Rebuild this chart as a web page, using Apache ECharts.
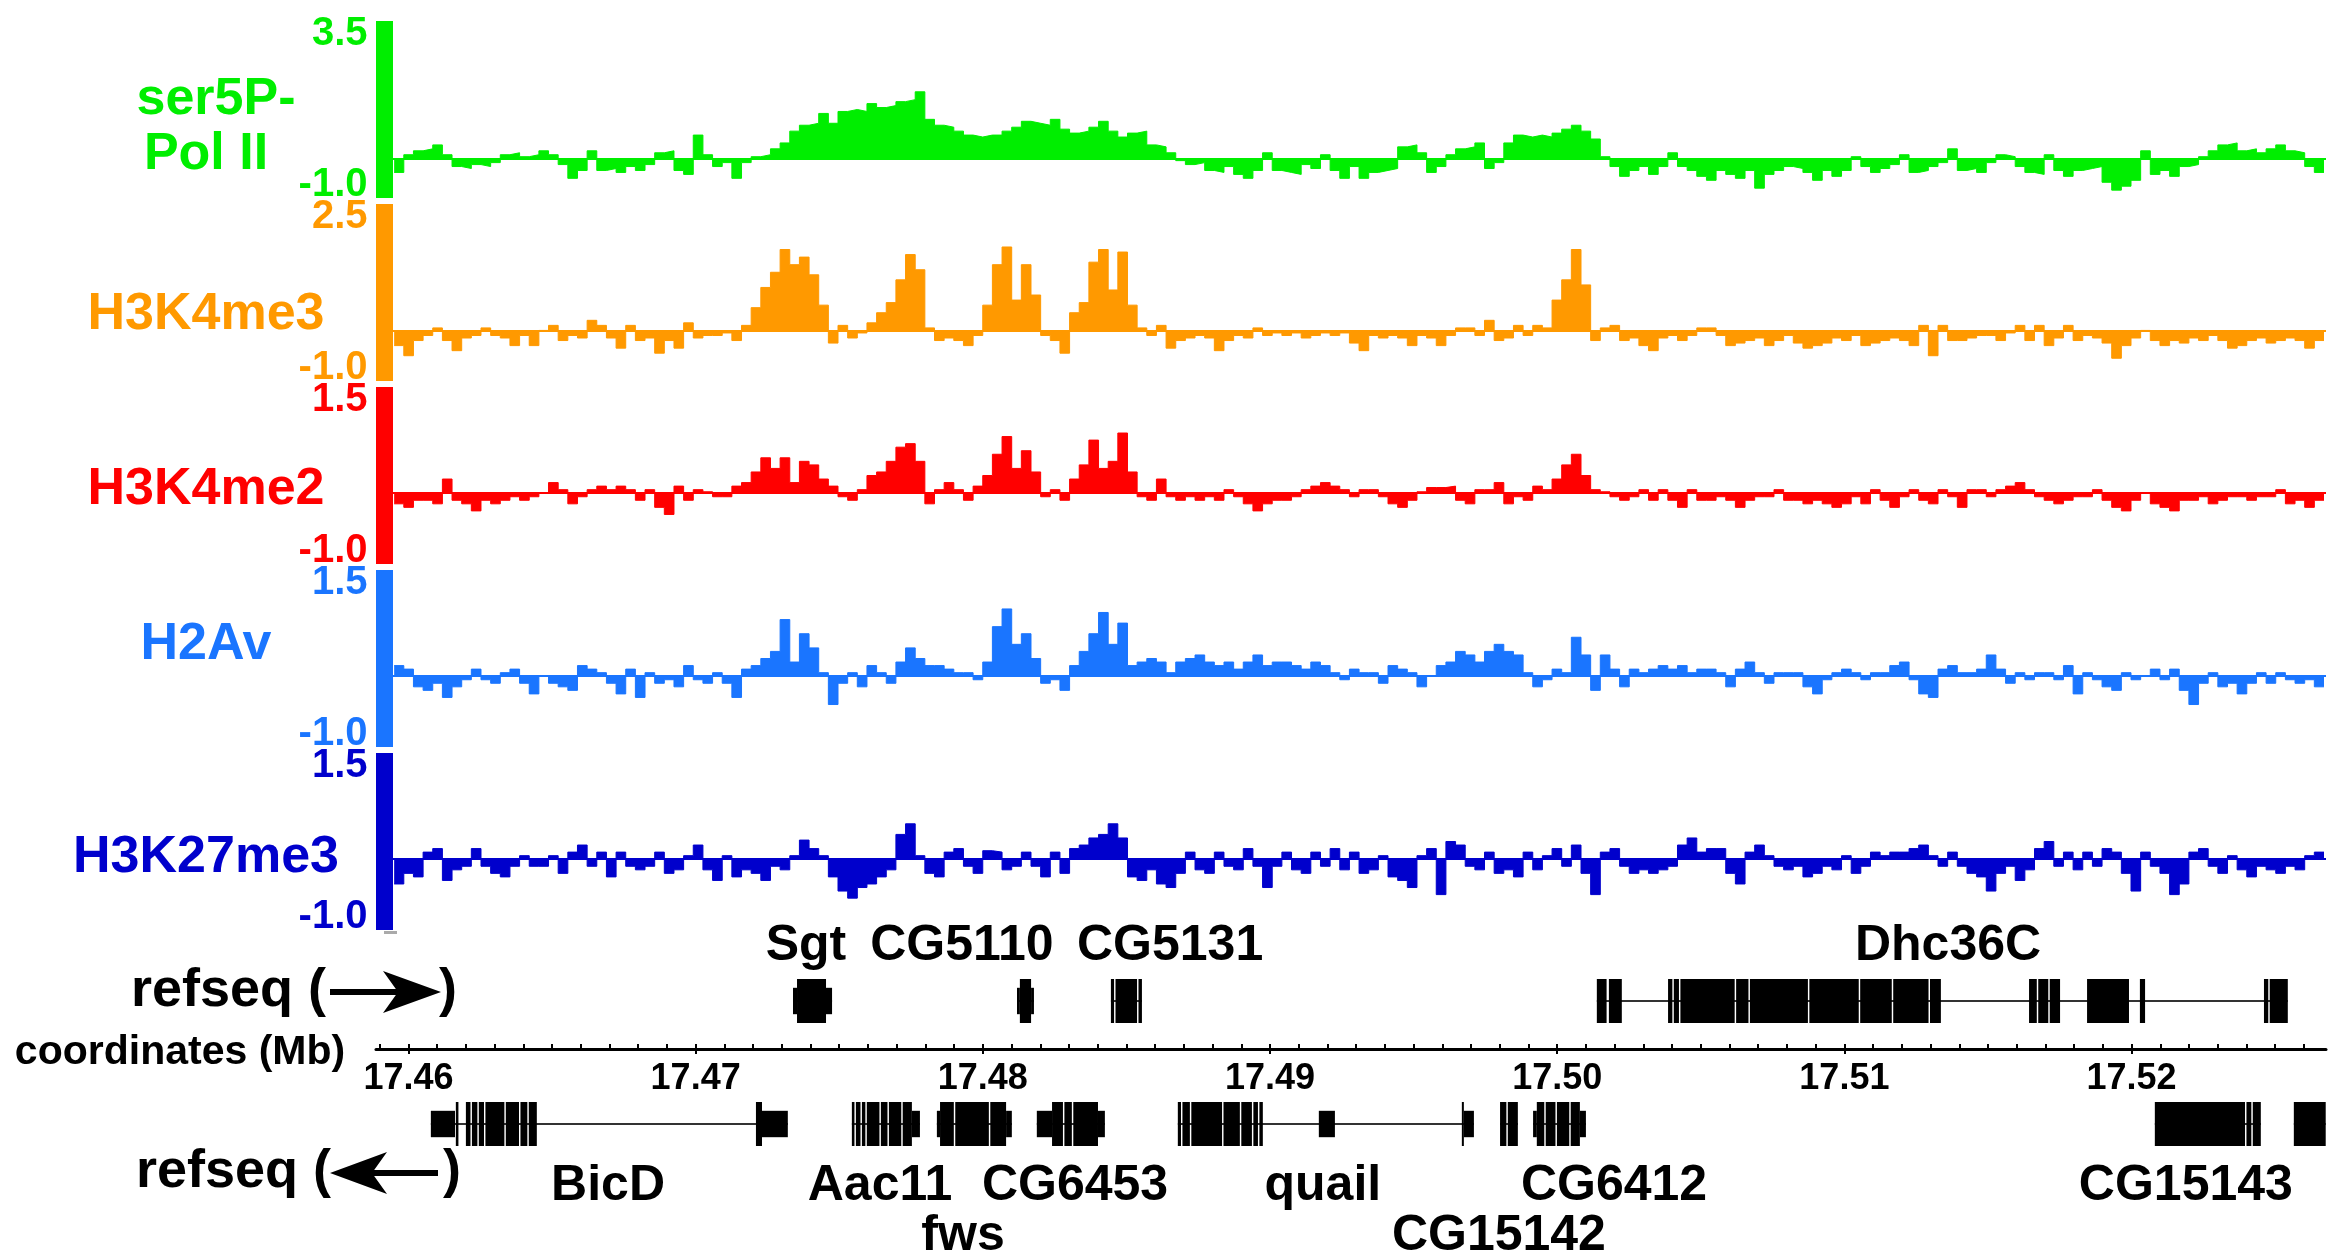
<!DOCTYPE html>
<html><head><meta charset="utf-8">
<script src="https://cdn.jsdelivr.net/npm/echarts@6/dist/echarts.min.js"></script>
<style>html,body{margin:0;padding:0;background:#fff;}#c{width:2347px;height:1257px;}</style>
</head><body><div id="c"></div>
<script>
const FONT = '"Liberation Sans", Arial, Helvetica, sans-serif';
// genomic bins (Mb)
const BIN_START = 17.4595, BIN_SIZE = 0.000336;
const SIG_MIN = 17.45946, X_MAX = 17.52677, GENE_MIN = 17.45887;

const trackNames = ['ser5P-Pol II', 'H3K4me3', 'H3K4me2', 'H2Av', 'H3K27me3'];
const trackColors = ['#00ee00', '#ff9900', '#ff0000', '#1a75ff', '#0000cc'];
const trackMin = [-1.0, -1.0, -1.0, -1.0, -1.0];
const trackMax = [3.5, 2.5, 1.5, 1.5, 1.5];

const ser5P = [
-0.35,0.1,0.2,0.25,0.35,0.1,-0.2,-0.25,-0.15,-0.2,
-0.1,0.1,0.15,0.05,0.1,0.2,0.1,-0.15,-0.5,-0.3,
0.2,-0.3,-0.25,-0.35,-0.2,-0.3,-0.15,0.15,0.2,-0.3,
-0.4,0.6,0.1,-0.2,-0.1,-0.5,-0.1,0.05,0.1,0.25,
0.4,0.7,0.85,0.9,1.15,0.9,1.2,1.25,1.2,1.4,
1.3,1.35,1.45,1.5,1.7,1.0,0.85,0.8,0.7,0.6,
0.55,0.6,0.6,0.7,0.8,0.95,0.9,0.85,1.0,0.75,
0.65,0.7,0.8,0.95,0.7,0.55,0.65,0.7,0.35,0.3,
0.15,-0.05,-0.15,-0.1,-0.3,-0.35,-0.2,-0.4,-0.5,-0.3,
0.15,-0.3,-0.35,-0.4,-0.15,-0.25,0.1,-0.3,-0.5,-0.2,
-0.5,-0.35,-0.3,-0.25,0.3,0.35,0.15,-0.35,-0.2,0.1,
0.25,0.3,0.4,-0.25,-0.1,0.4,0.6,0.55,0.6,0.55,
0.65,0.75,0.85,0.7,0.5,0.05,-0.2,-0.45,-0.3,-0.2,
-0.4,-0.2,0.15,-0.2,-0.3,-0.45,-0.55,-0.3,-0.4,-0.5,
-0.3,-0.75,-0.4,-0.3,-0.2,-0.25,-0.35,-0.55,-0.3,-0.45,
-0.3,0.05,-0.2,-0.35,-0.25,-0.15,0.1,-0.35,-0.3,-0.2,
-0.1,0.25,-0.3,-0.25,-0.35,-0.1,0.1,0.05,-0.2,-0.35,
-0.4,0.1,-0.3,-0.45,-0.3,-0.25,-0.2,-0.6,-0.8,-0.7,
-0.55,0.2,-0.4,-0.3,-0.45,-0.2,-0.15,0.05,0.2,0.35,
0.4,0.2,0.25,0.15,0.25,0.35,0.2,0.15,-0.2,-0.35];

const h3k4me3 = [
-0.3,-0.5,-0.2,-0.1,0.05,-0.2,-0.4,-0.15,-0.1,0.05,
-0.1,-0.15,-0.3,-0.1,-0.3,0,0.1,-0.2,-0.1,-0.15,
0.2,0.1,-0.15,-0.35,0.1,-0.2,-0.15,-0.45,-0.2,-0.35,
0.15,-0.15,-0.1,-0.1,-0.05,-0.2,0.1,0.45,0.85,1.15,
1.6,1.3,1.45,1.1,0.5,-0.25,0.1,-0.15,-0.05,0.15,
0.35,0.55,1.0,1.5,1.2,0.05,-0.2,-0.15,-0.2,-0.3,
-0.1,0.5,1.3,1.65,0.6,1.3,0.7,-0.1,-0.2,-0.45,
0.35,0.55,1.35,1.6,0.8,1.55,0.5,0.05,-0.1,0.1,
-0.35,-0.2,-0.15,-0.1,-0.15,-0.4,-0.2,-0.1,-0.15,0.05,
-0.1,-0.05,-0.1,-0.05,-0.15,-0.1,-0.05,-0.1,-0.05,-0.25,
-0.4,-0.1,-0.15,-0.1,-0.15,-0.3,-0.1,-0.15,-0.3,-0.1,
0.05,0.05,-0.1,0.2,-0.2,-0.15,0.1,-0.1,0.1,0.05,
0.6,1.0,1.6,0.9,-0.2,0.05,0.1,-0.2,-0.15,-0.3,
-0.4,-0.15,-0.1,-0.2,-0.1,0.05,0.05,-0.1,-0.3,-0.25,
-0.2,-0.15,-0.3,-0.2,-0.1,-0.25,-0.35,-0.3,-0.25,-0.15,
-0.2,-0.1,-0.3,-0.25,-0.2,-0.15,-0.2,-0.3,0.1,-0.5,
0.1,-0.2,-0.2,-0.15,-0.1,-0.1,-0.2,-0.05,0.1,-0.2,
0.1,-0.3,-0.15,0.1,-0.2,-0.1,-0.15,-0.25,-0.55,-0.3,
-0.15,0,-0.2,-0.3,-0.2,-0.25,-0.15,-0.2,-0.1,-0.2,
-0.35,-0.3,-0.2,-0.15,-0.25,-0.2,-0.15,-0.2,-0.35,-0.2];

const h3k4me2 = [
-0.15,-0.2,-0.1,-0.1,-0.15,0.2,-0.1,-0.15,-0.25,-0.1,
-0.15,-0.1,-0.05,-0.1,-0.05,0,0.15,0.05,-0.15,-0.05,
0.05,0.1,0.05,0.1,0.05,-0.1,0.05,-0.2,-0.3,0.1,
-0.1,0.05,0.02,-0.05,-0.05,0.1,0.15,0.3,0.5,0.35,
0.5,0.15,0.45,0.4,0.2,0.1,-0.05,-0.1,0.05,0.25,
0.3,0.45,0.65,0.7,0.45,-0.15,0.05,0.15,0.05,-0.1,
0.1,0.25,0.55,0.8,0.35,0.6,0.3,-0.05,0.05,-0.1,
0.2,0.4,0.75,0.35,0.45,0.85,0.3,-0.05,-0.1,0.2,
-0.05,-0.1,-0.05,-0.1,-0.05,-0.1,0.05,-0.05,-0.15,-0.25,
-0.15,-0.1,-0.1,-0.05,0.05,0.1,0.15,0.1,0.05,-0.05,
0.05,0.05,-0.05,-0.15,-0.2,-0.1,0.02,0.08,0.08,0.1,
-0.1,-0.15,0.05,0.05,0.15,-0.15,-0.05,-0.1,0.1,0.05,
0.2,0.4,0.55,0.25,0.05,0.02,-0.05,-0.1,-0.05,0.05,
-0.1,0.05,-0.1,-0.2,0.05,-0.1,-0.1,-0.05,-0.1,-0.2,
-0.1,-0.05,-0.05,0.05,-0.1,-0.1,-0.15,-0.1,-0.15,-0.2,
-0.15,-0.05,-0.15,0.05,-0.1,-0.2,-0.05,0.05,-0.1,-0.15,
0.05,-0.05,-0.2,0.05,0.05,-0.05,0.05,0.1,0.15,0.05,
-0.05,-0.1,-0.15,-0.1,-0.05,-0.05,0.05,-0.1,-0.2,-0.25,
-0.1,0,-0.15,-0.2,-0.25,-0.1,-0.1,-0.05,-0.15,-0.1,
-0.05,-0.05,-0.1,-0.05,-0.05,0.05,-0.15,-0.1,-0.2,-0.1];

const h2av = [
0.15,0.1,-0.15,-0.2,-0.1,-0.3,-0.15,-0.05,0.1,-0.05,
-0.1,0.05,0.1,-0.1,-0.25,0,-0.1,-0.15,-0.2,0.15,
0.1,0.05,-0.1,-0.25,0.1,-0.3,0.05,-0.1,-0.05,-0.15,
0.15,-0.05,-0.1,0.05,-0.1,-0.3,0.1,0.15,0.25,0.35,
0.8,0.2,0.6,0.4,0.05,-0.4,-0.1,0.05,-0.15,0.15,
0.05,-0.1,0.2,0.4,0.25,0.15,0.15,0.1,0.05,0.05,
-0.05,0.2,0.7,0.95,0.45,0.6,0.25,-0.1,-0.05,-0.2,
0.15,0.35,0.6,0.9,0.45,0.75,0.15,0.2,0.25,0.2,
0.05,0.2,0.25,0.3,0.2,0.15,0.2,0.1,0.2,0.3,
0.15,0.2,0.2,0.15,0.1,0.2,0.15,0.05,-0.05,0.1,
0.05,0.05,-0.1,0.15,0.1,0.05,-0.15,0,0.15,0.2,
0.35,0.3,0.2,0.35,0.45,0.35,0.3,0.05,-0.15,-0.05,
0.1,0.05,0.55,0.3,-0.2,0.3,0.1,-0.15,0.1,0.05,
0.1,0.15,0.1,0.15,0.05,0.1,0.1,0.05,-0.15,0.1,
0.2,0.05,-0.1,0.05,0.05,0.05,-0.15,-0.25,-0.05,0.05,
0.1,0.05,-0.05,0.05,0.05,0.15,0.2,-0.05,-0.25,-0.3,
0.1,0.15,0.05,0.05,0.1,0.3,0.1,-0.1,0.05,-0.05,
0.05,0.05,-0.05,0.15,-0.25,0.05,-0.05,-0.15,-0.2,0.05,
-0.05,0,0.1,-0.05,0.1,-0.2,-0.4,-0.1,0.05,-0.15,
-0.1,-0.25,-0.1,0.05,-0.1,0.05,-0.05,-0.1,-0.05,-0.15];

const h3k27me3 = [
-0.35,-0.2,-0.25,0.1,0.15,-0.3,-0.15,-0.1,0.15,-0.1,
-0.2,-0.25,-0.1,0.05,-0.1,-0.1,0.05,-0.2,0.1,0.2,
-0.1,0.1,-0.25,0.1,-0.1,-0.15,-0.1,0.1,-0.2,-0.15,
0.05,0.2,-0.15,-0.3,0.05,-0.25,-0.15,-0.2,-0.3,-0.1,
-0.15,0.05,0.27,0.15,0.05,-0.25,-0.45,-0.55,-0.4,-0.35,
-0.25,-0.15,0.35,0.5,0.05,-0.2,-0.25,0.1,0.15,-0.1,
-0.2,0.12,0.1,-0.15,-0.1,0.1,-0.1,-0.25,0.1,-0.2,
0.15,0.2,0.3,0.35,0.5,0.3,-0.25,-0.3,-0.15,-0.35,
-0.4,-0.2,0.1,-0.15,-0.2,0.1,-0.1,-0.15,0.15,-0.1,
-0.4,-0.1,0.1,-0.15,-0.2,0.1,-0.1,0.15,-0.15,0.1,
-0.2,-0.15,0.05,-0.25,-0.3,-0.4,0.05,0.15,-0.5,0.25,
0.2,-0.1,-0.15,0.1,-0.2,-0.15,-0.25,0.1,-0.15,0.05,
0.15,-0.1,0.2,-0.2,-0.5,0.1,0.15,-0.1,-0.2,-0.15,
-0.2,-0.15,-0.1,0.2,0.3,0.1,0.15,0.15,-0.2,-0.35,
0.1,0.2,0.05,-0.1,-0.15,-0.1,-0.25,-0.2,-0.1,-0.15,
0.05,-0.2,-0.1,0.1,0.05,0.1,0.1,0.15,0.2,0.05,
-0.1,0.1,-0.1,-0.2,-0.25,-0.45,-0.2,-0.1,-0.3,-0.15,
0.15,0.25,-0.1,0.1,-0.15,0.1,-0.1,0.15,0.1,-0.2,
-0.45,0.1,-0.1,-0.2,-0.5,-0.35,0.1,0.15,-0.1,-0.2,
0.05,-0.15,-0.25,-0.1,-0.15,-0.2,-0.1,-0.15,0.05,0.1];

const trackValues = [ser5P, h3k4me3, h3k4me2, h2av, h3k27me3];

// coordinate axis ticks (Mb)
const majorTicks = [17.46, 17.47, 17.48, 17.49, 17.50, 17.51, 17.52];
const minorTicks = [];
for (let k = 17459; k <= 17526; k++) minorTicks.push(k / 1000);

// gene models: spans (intron line) and exons [start, end, relative height]
const fwdSpans = [[17.47339,17.47475],[17.48119,17.48178],[17.48446,17.48554],[17.50138,17.52544]];
const fwdExons = [
[17.47339,17.47353,0.6],[17.47353,17.47454,1],[17.47454,17.47475,0.6],
[17.48119,17.48129,0.6],[17.48129,17.48168,1],[17.48168,17.48178,0.6],
[17.48446,17.48457,1],[17.48462,17.48537,1],[17.48542,17.48554,1],
[17.50138,17.50172,1],[17.50180,17.50225,1],
[17.50386,17.50401,1],[17.50406,17.50424,1],[17.50429,17.50618,1],[17.50623,17.50666,1],
[17.50671,17.50873,1],[17.50878,17.51050,1],[17.51055,17.51165,1],[17.51170,17.51293,1],[17.51298,17.51336,1],
[17.51643,17.51670,1],[17.51675,17.51710,1],[17.51715,17.51751,1],
[17.51845,17.51991,1],[17.52029,17.52047,1],
[17.52461,17.52476,1],[17.52481,17.52544,1]];
const revSpans = [[17.46078,17.47321],[17.47544,17.47781],[17.47840,17.48101],[17.48188,17.48425],
[17.48679,17.49710],[17.49801,17.49863],[17.49916,17.50100],[17.52081,17.52450],[17.52565,17.52676]];
const revExons = [
[17.46078,17.46162,0.6],[17.46165,17.46174,1],[17.46200,17.46216,1],[17.46221,17.46240,1],[17.46245,17.46263,1],
[17.46268,17.46334,1],[17.46339,17.46385,1],[17.46390,17.46414,1],[17.46419,17.46447,1],
[17.47210,17.47231,1],[17.47231,17.47321,0.6],
[17.47544,17.47553,1],[17.47558,17.47574,1],[17.47579,17.47591,1],[17.47596,17.47640,1],
[17.47645,17.47668,1],[17.47673,17.47716,1],[17.47721,17.47753,1],[17.47753,17.47781,0.6],
[17.47840,17.47851,0.6],[17.47851,17.47899,1],[17.47904,17.48021,1],[17.48026,17.48081,1],[17.48081,17.48101,0.6],
[17.48188,17.48241,0.6],[17.48241,17.48279,1],[17.48284,17.48310,1],[17.48315,17.48401,1],[17.48401,17.48425,0.6],
[17.48679,17.48690,1],[17.48695,17.48721,1],[17.48726,17.48833,1],[17.48838,17.48895,1],[17.48900,17.48937,1],
[17.48942,17.48958,1],[17.48963,17.48975,1],[17.49170,17.49226,0.6],[17.49668,17.49675,1],[17.49675,17.49710,0.6],
[17.49801,17.49823,1],[17.49828,17.49863,1],
[17.49916,17.49929,0.6],[17.49929,17.49955,1],[17.49960,17.49994,1],[17.49999,17.50042,1],[17.50047,17.50079,1],[17.50079,17.50100,0.6],
[17.52081,17.52395,1],[17.52400,17.52417,1],[17.52422,17.52450,1],
[17.52565,17.52676,1]];
const fwdLabels = [['Sgt',17.47384,0],['CG5110',17.47927,0],['CG5131',17.48652,0],['Dhc36C',17.51361,0]];
const revLabels = [['BicD',17.46695,1],['Aac11',17.47642,1],['CG6453',17.48321,1],['quail',17.49184,1],
['CG6412',17.50198,1],['CG15143',17.52189,1],['fws',17.47931,2],['CG15142',17.49797,2]];

// ---------------- layout ----------------
const trackTops = [21, 204, 387, 570, 753];
const TRACK_H = 177;
const AXF = 40;

const grids = [], xAxes = [], yAxes = [], series = [];
trackValues.forEach((vals, k) => {
  const color = trackColors[k], mn = trackMin[k], mx = trackMax[k];
  grids.push({left: 393, right: 21, top: trackTops[k], height: TRACK_H, containLabel: false});
  xAxes.push({type: 'value', gridIndex: k, min: SIG_MIN, max: X_MAX, show: false});
  yAxes.push({
    type: 'value', gridIndex: k, min: mn, max: mx, offset: 8.5,
    axisLine: {show: true, onZero: false, lineStyle: {color: color, width: 17, cap: 'butt'}},
    axisTick: {show: false}, splitLine: {show: false},
    axisLabel: {
      show: true, customValues: [mn, mx], margin: 17, color: color,
      fontFamily: FONT, fontWeight: 'bold', fontSize: AXF,
      formatter: v => (v === mx ? '{t|' : '{b|') + v.toFixed(1) + '}',
      rich: {
        t: {padding: [26, 0, 0, 0], color: color, fontFamily: FONT, fontWeight: 'bold', fontSize: AXF},
        b: {padding: [0, 0, 26, 0], color: color, fontFamily: FONT, fontWeight: 'bold', fontSize: AXF}
      }
    }
  });
  const data = vals.map((v, i) => [BIN_START + i * BIN_SIZE, v]);
  data.push([BIN_START + vals.length * BIN_SIZE, vals[vals.length - 1]]);
  series.push({
    type: 'line', name: trackNames[k], xAxisIndex: k, yAxisIndex: k, step: 'end',
    symbol: 'none', silent: true, data: data,
    lineStyle: {width: 1, color: color}, itemStyle: {color: color},
    areaStyle: {color: color, opacity: 1, origin: 'auto'},
    markLine: {silent: true, symbol: 'none', label: {show: false},
      lineStyle: {color: color, width: 2, type: 'solid'}, data: [{yAxis: 0}]}
  });
});

// gene grids: 5 forward, 6 reverse, 7 coordinate axis
grids.push({left: 376, right: 21, top: 979, height: 44, containLabel: false});
grids.push({left: 376, right: 21, top: 1102, height: 44, containLabel: false});
grids.push({left: 376, right: 21, top: 1000, height: 49, containLabel: false});
xAxes.push({type: 'value', gridIndex: 5, min: GENE_MIN, max: X_MAX, show: false});
xAxes.push({type: 'value', gridIndex: 6, min: GENE_MIN, max: X_MAX, show: false});
yAxes.push({type: 'value', gridIndex: 5, min: 0, max: 1, show: false});
yAxes.push({type: 'value', gridIndex: 6, min: 0, max: 1, show: false});
yAxes.push({type: 'value', gridIndex: 7, min: 0, max: 1, show: false});
xAxes.push({
  type: 'value', gridIndex: 7, min: GENE_MIN, max: X_MAX, position: 'bottom',
  axisLine: {show: true, onZero: false, lineStyle: {color: '#000', width: 3}},
  axisTick: {show: true, customValues: majorTicks, length: 5, inside: false, lineStyle: {color: '#000', width: 2}},
  axisLabel: {show: true, customValues: majorTicks, formatter: v => v.toFixed(2), margin: 12,
    color: '#000', fontFamily: FONT, fontWeight: 'bold', fontSize: 36},
  splitLine: {show: false}
});
xAxes.push({
  type: 'value', gridIndex: 7, min: GENE_MIN, max: X_MAX, position: 'bottom',
  axisLine: {show: false},
  axisTick: {show: true, customValues: minorTicks, length: 5, inside: true, lineStyle: {color: '#000', width: 2}},
  axisLabel: {show: false}, splitLine: {show: false}
});

function spanRender(params, api) {
  const a = api.coord([api.value(0), 0.5]), b = api.coord([api.value(1), 0.5]);
  return {type: 'rect', shape: {x: a[0], y: a[1] - 1, width: b[0] - a[0], height: 2}, style: {fill: '#333'}};
}
function exonRender(params, api) {
  const a = api.coord([api.value(0), 0.5]), b = api.coord([api.value(1), 0.5]);
  const h = api.size([0, api.value(2)])[1];
  return {type: 'rect', shape: {x: a[0], y: a[1] - h / 2, width: Math.max(1.5, b[0] - a[0]), height: h}, style: {fill: '#000'}};
}
function labelRender(list, offsets) {
  return function (params, api) {
    const item = list[params.dataIndex];
    const p = api.coord([item[1], 0]);
    return {type: 'text', x: p[0], y: p[1] + offsets[item[2]],
      style: {text: item[0], fill: '#000', font: 'bold 50px ' + FONT, align: 'center', verticalAlign: 'middle'}};
  };
}
[[5, fwdSpans, fwdExons], [6, revSpans, revExons]].forEach(([gi, spans, exons]) => {
  series.push({type: 'custom', xAxisIndex: gi, yAxisIndex: gi, silent: true, data: spans, renderItem: spanRender, encode: {x: [0, 1]}});
  series.push({type: 'custom', xAxisIndex: gi, yAxisIndex: gi, silent: true, data: exons, renderItem: exonRender, encode: {x: [0, 1]}});
});
series.push({type: 'custom', xAxisIndex: 5, yAxisIndex: 5, silent: true, clip: false,
  data: fwdLabels.map(d => [d[1], d[2]]), renderItem: labelRender(fwdLabels, [-77, 0, 0]), encode: {x: 0}});
series.push({type: 'custom', xAxisIndex: 6, yAxisIndex: 6, silent: true, clip: false,
  data: revLabels.map(d => [d[1], d[2]]), renderItem: labelRender(revLabels, [0, 40, 90]), encode: {x: 0}});

// ---------------- text labels ----------------
function txt(t, x, y, color, size, align) {
  return {type: 'text', x: x, y: y, silent: true,
    style: {text: t, fill: color, font: 'bold ' + size + 'px ' + FONT, align: align || 'center', verticalAlign: 'middle'}};
}
const graphic = [
  txt('ser5P-', 216, 100, trackColors[0], 52),
  txt('Pol II', 206, 155, trackColors[0], 52),
  txt('H3K4me3', 206, 315, trackColors[1], 52),
  txt('H3K4me2', 206, 490, trackColors[2], 52),
  txt('H2Av', 206, 645, trackColors[3], 52),
  txt('H3K27me3', 206, 858, trackColors[4], 52),
  txt('refseq (', 326, 991, '#000', 54, 'right'),
  txt(')', 439, 991, '#000', 54, 'left'),
  {type: 'line', silent: true, shape: {x1: 330, y1: 992, x2: 400, y2: 992}, style: {stroke: '#000', lineWidth: 6}},
  {type: 'polygon', silent: true, shape: {points: [[441, 992], [383, 971], [398, 992], [383, 1013]]}, style: {fill: '#000'}},
  txt('refseq (', 331, 1172, '#000', 54, 'right'),
  txt(')', 443, 1172, '#000', 54, 'left'),
  {type: 'line', silent: true, shape: {x1: 372, y1: 1173, x2: 438, y2: 1173}, style: {stroke: '#000', lineWidth: 6}},
  {type: 'polygon', silent: true, shape: {points: [[330, 1173], [387, 1152], [372, 1173], [387, 1194]]}, style: {fill: '#000'}},
  txt('coordinates (Mb)', 180, 1053, '#000', 41),
  {type: 'rect', silent: true, shape: {x: 384, y: 931, width: 13, height: 3}, style: {fill: '#aaaaaa'}}
];

const chart = echarts.init(document.getElementById('c'), null, {renderer: 'canvas'});
chart.setOption({
  animation: false,
  backgroundColor: '#ffffff',
  grid: grids, xAxis: xAxes, yAxis: yAxes, series: series, graphic: graphic
});
</script></body></html>
